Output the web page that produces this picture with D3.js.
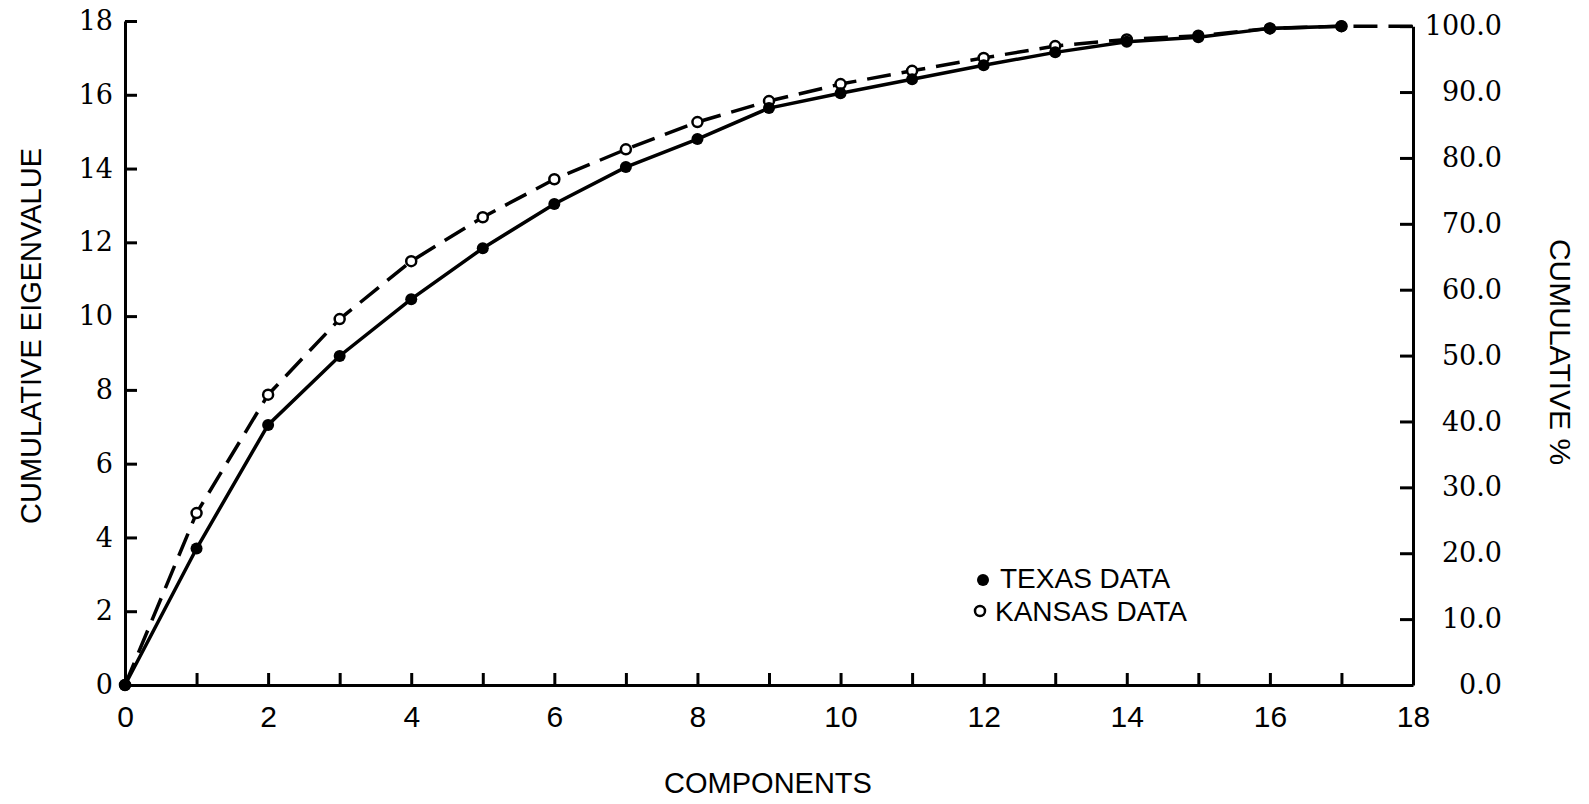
<!DOCTYPE html>
<html>
<head>
<meta charset="utf-8">
<script src="https://cdn.jsdelivr.net/npm/d3@7"></script>
<style>
  body { margin: 0; background: #fff; }
  .sans { font-family: "Liberation Sans", Arial, sans-serif; }
  .serif { font-family: "DejaVu Serif", serif; }
</style>
</head>
<body>
<svg id="chart" width="1589" height="804"></svg>
<script>
// cumulative eigenvalues
const texasComponents = d3.range(0, 18);
const texasValues = [0, 3.70, 7.05, 8.92, 10.46, 11.84, 13.04, 14.04, 14.80, 15.64,
                     16.04, 16.42, 16.80, 17.15, 17.44, 17.56, 17.80, 17.86];
const kansasComponents = d3.range(0, 19);
const kansasValues = [0, 4.66, 7.87, 9.92, 11.49, 12.68, 13.71, 14.52, 15.26, 15.83,
                      16.29, 16.65, 17.00, 17.32, 17.50, 17.60, 17.80, 17.86, 17.86];
const xTicks = d3.range(0, 19);
const yTicks = d3.range(0, 19, 2);
const pctTicks = d3.range(0, 101, 10);
const totalEigen = 17.86; // 100 % on the right axis

const svg = d3.select("#chart");

const x = d3.scaleLinear().domain([0, 18]).range([125, 1413]);
const y = d3.scaleLinear().domain([0, 18]).range([685, 21]);
const yPct = d3.scaleLinear().domain([0, 100]).range([y(0), y(totalEigen)]);

const styleAxis = (g) => {
    g.select(".domain").attr("stroke", "#000").attr("stroke-width", 3);
    g.selectAll(".tick line").attr("stroke", "#000").attr("stroke-width", 3);
    g.selectAll(".tick text").attr("fill", "#000");
};

// bottom axis: tick at every component, label every second one
svg.append("g")
    .attr("transform", `translate(0,${y(0)})`)
    .call(d3.axisBottom(x).tickValues(xTicks).tickSizeInner(-12).tickSizeOuter(0)
        .tickPadding(21).tickFormat(d => d % 2 === 0 ? d : ""))
    .call(styleAxis)
    .call(g => g.selectAll("text").attr("class", "sans").style("font-size", "30px"));

// left axis
svg.append("g")
    .attr("transform", `translate(${x(0)},0)`)
    .call(d3.axisLeft(y).tickValues(yTicks).tickSizeInner(-12).tickSizeOuter(0).tickPadding(12))
    .call(styleAxis)
    .call(g => g.selectAll("text").attr("class", "serif").style("font-size", "27px"));

// right axis (cumulative %)
svg.append("g")
    .attr("transform", `translate(${x(18)},0)`)
    .call(d3.axisRight(yPct).tickValues(pctTicks).tickSizeInner(-13).tickSizeOuter(0)
        .tickFormat(d3.format(".1f")))
    .call(styleAxis)
    .call(g => g.selectAll("text").attr("class", "serif").style("font-size", "27px")
        .attr("text-anchor", "end").attr("x", 89));

// lines
const kansas = kansasComponents.map((c, i) => ({ c, v: kansasValues[i] }));
const texas = texasComponents.map((c, i) => ({ c, v: texasValues[i] }));
const line = d3.line().x(d => x(d.c)).y(d => y(d.v));

svg.append("path")
    .datum(kansas)
    .attr("d", line)
    .attr("fill", "none")
    .attr("stroke", "#000")
    .attr("stroke-width", 3.5)
    .attr("stroke-dasharray", "24,11");

svg.append("path")
    .datum(texas)
    .attr("d", line)
    .attr("fill", "none")
    .attr("stroke", "#000")
    .attr("stroke-width", 3.5);

// markers
svg.selectAll("circle.kansas")
    .data(kansas.filter(d => d.c < 18))
    .enter()
    .append("circle")
    .attr("class", "kansas")
    .attr("cx", d => x(d.c))
    .attr("cy", d => y(d.v))
    .attr("r", 5)
    .attr("fill", "#fff")
    .attr("stroke", "#000")
    .attr("stroke-width", 2.5);

svg.selectAll("circle.texas")
    .data(texas)
    .enter()
    .append("circle")
    .attr("class", "texas")
    .attr("cx", d => x(d.c))
    .attr("cy", d => y(d.v))
    .attr("r", 6)
    .attr("fill", "#000");

// legend
const legend = svg.append("g");
legend.append("circle").attr("cx", 983).attr("cy", 580).attr("r", 6).attr("fill", "#000");
legend.append("text").attr("class", "sans").attr("x", 1000).attr("y", 588)
    .style("font-size", "28px").text("TEXAS DATA");
legend.append("circle").attr("cx", 980).attr("cy", 611).attr("r", 5)
    .attr("fill", "#fff").attr("stroke", "#000").attr("stroke-width", 2.5);
legend.append("text").attr("class", "sans").attr("x", 995).attr("y", 621)
    .style("font-size", "28px").text("KANSAS DATA");

// axis titles
svg.append("text").attr("class", "sans")
    .attr("x", 768).attr("y", 793)
    .attr("text-anchor", "middle")
    .style("font-size", "29px")
    .text("COMPONENTS");

svg.append("text").attr("class", "sans")
    .attr("transform", "translate(41,336) rotate(-90)")
    .attr("text-anchor", "middle")
    .style("font-size", "29px")
    .text("CUMULATIVE EIGENVALUE");

svg.append("text").attr("class", "sans")
    .attr("transform", "translate(1550,352) rotate(90)")
    .attr("text-anchor", "middle")
    .style("font-size", "30px")
    .text("CUMULATIVE %");
</script>
</body>
</html>
